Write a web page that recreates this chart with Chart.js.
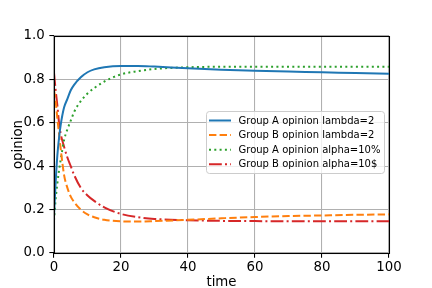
<!DOCTYPE html>
<html lang="en">
<head>
  <meta charset="UTF-8">
  <title>Opinion over time</title>
  <script src="https://cdn.jsdelivr.net/npm/chart.js"></script>
  <style>
    body { margin: 0; background: #ffffff; }
    #chart { display: block; }
  </style>
</head>
<body>
  <canvas id="chart" width="432" height="288"></canvas>

<script>
  // time steps and series values
  const times = [0, 0.5, 1, 1.5, 2, 3, 4, 5, 6, 8, 10, 12, 15, 20, 25, 30, 40, 50, 60, 70, 80, 90, 100];
  const groupALambda = [0.17, 0.33, 0.45, 0.53, 0.59, 0.67, 0.71, 0.75, 0.775, 0.81, 0.833, 0.846, 0.856, 0.862, 0.862, 0.859, 0.851, 0.845, 0.840, 0.836, 0.833, 0.829, 0.826];
  const groupBLambda = [0.75, 0.70, 0.62, 0.55, 0.48, 0.36, 0.30, 0.26, 0.235, 0.20, 0.178, 0.165, 0.153, 0.146, 0.145, 0.147, 0.153, 0.160, 0.166, 0.170, 0.173, 0.176, 0.178];
  const groupAAlpha = [0.15, 0.25, 0.32, 0.38, 0.43, 0.52, 0.57, 0.61, 0.65, 0.70, 0.735, 0.76, 0.79, 0.823, 0.838, 0.848, 0.856, 0.858, 0.858, 0.858, 0.858, 0.858, 0.858];
  const groupBAlpha = [0.83, 0.75, 0.68, 0.60, 0.55, 0.49, 0.44, 0.40, 0.36, 0.30, 0.265, 0.24, 0.21, 0.18, 0.165, 0.157, 0.151, 0.148, 0.147, 0.146, 0.146, 0.146, 0.146];

  const xTicks = [0, 20, 40, 60, 80, 100];
  const yTicks = [0, 0.2, 0.4, 0.6, 0.8, 1.0];

  const seriesInfo = [
    { label: 'Group A opinion lambda=2', values: groupALambda, color: '#1f77b4', dash: [] },
    { label: 'Group B opinion lambda=2', values: groupBLambda, color: '#ff7f0e', dash: [7.4, 3.2] },
    { label: 'Group A opinion alpha=10%', values: groupAAlpha, color: '#2ca02c', dash: [2, 3.3] },
    { label: 'Group B opinion alpha=10$', values: groupBAlpha, color: '#d62728', dash: [12.8, 3.2, 2, 3.2] }
  ];

  const FONT = 'DejaVu Sans';
  const FS = 13.33;

  // spines on all four sides like matplotlib
  const framePlugin = {
    id: 'frame',
    afterDatasetsDraw(chart) {
      const { ctx, chartArea: a } = chart;
      ctx.save();
      ctx.strokeStyle = '#000';
      ctx.lineWidth = 1.07;
      ctx.setLineDash([]);
      ctx.strokeRect(Math.round(a.left) + 0.5, Math.round(a.top) + 0.5,
        Math.round(a.right - a.left), Math.round(a.bottom - a.top));
      ctx.restore();
    }
  };

  // legend box inside the plot
  const legendPlugin = {
    id: 'innerLegend',
    afterDraw(chart) {
      const ctx = chart.ctx;
      const box = { x: 206.5, y: 111.5, w: 178, h: 62 };
      ctx.save();
      ctx.beginPath();
      ctx.roundRect(box.x, box.y, box.w, box.h, 3);
      ctx.fillStyle = 'rgba(255,255,255,0.8)';
      ctx.fill();
      ctx.strokeStyle = '#cccccc';
      ctx.lineWidth = 1;
      ctx.stroke();
      ctx.font = '10px "' + FONT + '"';
      ctx.textBaseline = 'middle';
      ctx.fillStyle = '#000';
      seriesInfo.forEach((s, i) => {
        const y = 120.5 + i * 14.6;
        ctx.beginPath();
        ctx.setLineDash(s.dash);
        ctx.strokeStyle = s.color;
        ctx.lineWidth = 2;
        ctx.moveTo(209, y);
        ctx.lineTo(231, y);
        ctx.stroke();
        ctx.setLineDash([]);
        ctx.fillText(s.label, 238.5, y + 0.5);
      });
      ctx.restore();
    }
  };

  const ctx = document.getElementById('chart').getContext('2d');
  new Chart(ctx, {
    type: 'line',
    data: {
      datasets: seriesInfo.map(s => ({
        label: s.label,
        data: times.map((t, i) => ({ x: t, y: s.values[i] })),
        borderColor: s.color,
        borderWidth: 2,
        borderDash: s.dash,
        pointRadius: 0,
        fill: false,
        cubicInterpolationMode: 'monotone'
      }))
    },
    options: {
      responsive: false,
      animation: false,
      layout: { padding: { top: 36, right: 43, left: 0, bottom: 0 } },
      plugins: {
        legend: { display: false },
        tooltip: { enabled: false }
      },
      scales: {
        x: {
          type: 'linear',
          min: 0,
          max: 100,
          afterFit(scale) { scale.height = 35; },
          afterBuildTicks(scale) { scale.ticks = xTicks.map(v => ({ value: v })); },
          grid: { color: '#b0b0b0', lineWidth: 1.07, tickColor: '#000', tickLength: 4.67 },
          border: { display: false },
          ticks: { color: '#000', font: { family: FONT, size: FS }, padding: 2, maxRotation: 0 },
          title: { display: true, text: 'time', color: '#000', font: { family: FONT, size: FS, lineHeight: 1 }, padding: { top: 0, bottom: -1.5 } }
        },
        y: {
          min: 0,
          max: 1,
          afterFit(scale) { scale.width = 54; },
          afterBuildTicks(scale) { scale.ticks = yTicks.map(v => ({ value: v })); },
          grid: { color: '#b0b0b0', lineWidth: 1.07, tickColor: '#000', tickLength: 4.67 },
          border: { display: false },
          ticks: {
            color: '#000',
            font: { family: FONT, size: FS },
            padding: 4.67,
            callback: v => v.toFixed(1)
          },
          title: { display: true, text: 'opinion', color: '#000', font: { family: FONT, size: FS, lineHeight: 1 }, padding: { top: 11.5, bottom: 0 } }
        }
      }
    },
    plugins: [framePlugin, legendPlugin]
  });
</script>

</body>
</html>
